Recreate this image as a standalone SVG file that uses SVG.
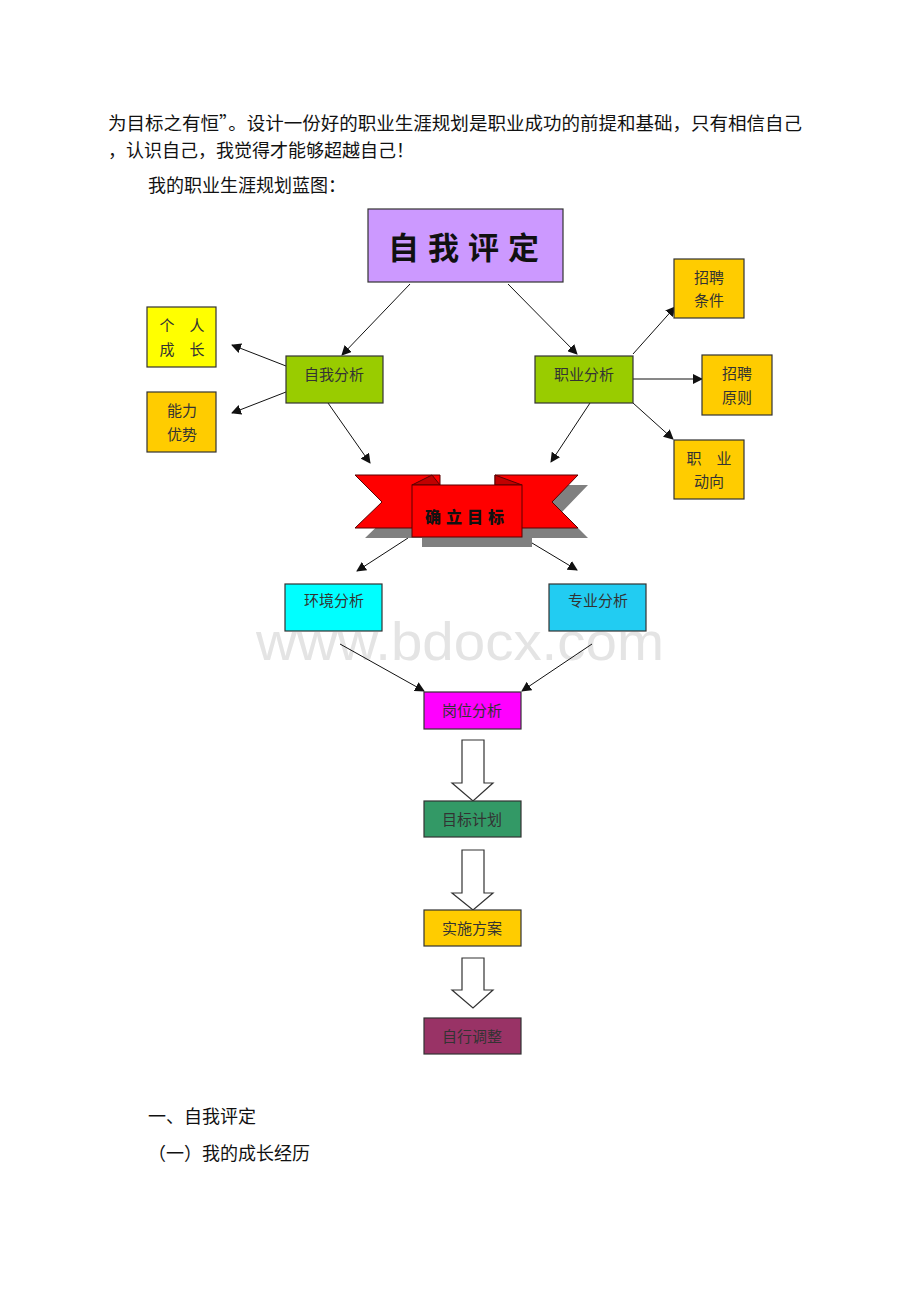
<svg xmlns="http://www.w3.org/2000/svg" width="920" height="1302" viewBox="0 0 920 1302">
<style>
.body{font-family:"Noto Sans CJK SC","Liberation Serif",serif;font-size:18px;fill:#111}
.box{stroke:#333;stroke-width:1.2}
.lbl{font-family:"Noto Sans CJK SC","Liberation Sans",sans-serif;font-size:15px;fill:#333;text-anchor:middle}
.con{stroke:#111;stroke-width:1;fill:none;marker-end:url(#ah)}
.blk{fill:#fff;stroke:#333;stroke-width:1.2}
</style>
<defs>
<marker id="ah" viewBox="0 0 10 10" refX="9" refY="5" markerWidth="10" markerHeight="10" markerUnits="userSpaceOnUse" orient="auto">
<path d="M0,0 L10,5 L0,10 z" fill="#111"/>
</marker>
</defs>
<rect width="920" height="1302" fill="#fff"/>
<text x="256" y="660" font-family="Liberation Sans,Arial,sans-serif" font-size="54" textLength="408" lengthAdjust="spacingAndGlyphs" fill="#e4e4e4">www.bdocx.com</text>
<g id="intro">
<text class="body" x="108" y="130" textLength="694" lengthAdjust="spacingAndGlyphs">为目标之有恒”。设计一份好的职业生涯规划是职业成功的前提和基础，只有相信自己</text>
<text class="body" x="108" y="157">，认识自己，我觉得才能够超越自己！</text>
<text class="body" x="148" y="192">我的职业生涯规划蓝图：</text>
</g>
<g id="connectors">
<line class="con" x1="410" y1="284" x2="342" y2="355"/>
<line class="con" x1="508" y1="284" x2="577" y2="354"/>
<line class="con" x1="286" y1="366" x2="232" y2="345"/>
<line class="con" x1="286" y1="392" x2="232" y2="413"/>
<line class="con" x1="328" y1="403" x2="370" y2="463"/>
<line class="con" x1="590" y1="403" x2="551" y2="462"/>
<line class="con" x1="633" y1="354" x2="675" y2="307"/>
<line class="con" x1="633" y1="379" x2="702" y2="379"/>
<line class="con" x1="633" y1="403" x2="673" y2="439"/>
<line class="con" x1="408" y1="538" x2="357" y2="571"/>
<line class="con" x1="522" y1="537" x2="577" y2="570"/>
<line class="con" x1="340" y1="644" x2="424" y2="691"/>
<line class="con" x1="592" y1="644" x2="522" y2="691"/>
<path class="blk" d="M462,740 H484 V783 H493 L473,801 L452,783 H462 Z"/>
<path class="blk" d="M462,850 H484 V893 H493 L473,910 L452,893 H462 Z"/>
<path class="blk" d="M462,958 H484 V990 H493 L473,1008 L452,990 H462 Z"/>
</g>
<g id="n-zwpd">
<rect class="box" x="368" y="209" width="195" height="73" fill="#cc99ff" stroke="#8a5cb0"/>
<text x="468" y="259" font-family="Noto Sans CJK SC,sans-serif" font-size="31" font-weight="700" fill="#111" text-anchor="middle" letter-spacing="9">自我评定</text>
</g>
<g id="n-grcz">
<rect class="box" x="147" y="307" width="69" height="60" fill="#ffff00"/>
<text class="lbl" x="182" y="331" xml:space="preserve">个　人</text>
<text class="lbl" x="182" y="355" xml:space="preserve">成　长</text>
</g>
<g id="n-nlys">
<rect class="box" x="147" y="392" width="69" height="60" fill="#ffcc00"/>
<text class="lbl" x="182" y="416">能力</text>
<text class="lbl" x="182" y="440">优势</text>
</g>
<g id="n-zwfx">
<rect class="box" x="286" y="356" width="97" height="47" fill="#99cc00"/>
<text class="lbl" x="334" y="380">自我分析</text>
</g>
<g id="n-zyfx">
<rect class="box" x="535" y="356" width="98" height="47" fill="#99cc00"/>
<text class="lbl" x="584" y="380">职业分析</text>
</g>
<g id="n-zptj">
<rect class="box" x="674" y="259" width="70" height="59" fill="#ffcc00"/>
<text class="lbl" x="709" y="283">招聘</text>
<text class="lbl" x="709" y="306">条件</text>
</g>
<g id="n-zpyz">
<rect class="box" x="702" y="355" width="70" height="60" fill="#ffcc00"/>
<text class="lbl" x="737" y="379">招聘</text>
<text class="lbl" x="737" y="403">原则</text>
</g>
<g id="n-zydx">
<rect class="box" x="674" y="440" width="70" height="59" fill="#ffcc00"/>
<text class="lbl" x="709" y="464" xml:space="preserve">职　业</text>
<text class="lbl" x="709" y="487">动向</text>
</g>
<g id="n-qlmb">
<g fill="#808080">
<polygon points="365,485 450,485 450,538 365,538 392,512"/>
<polygon points="505,485 588,485 562,512 588,538 505,538"/>
<rect x="422" y="495" width="110" height="52"/>
</g>
<g fill="#ff0000" stroke="#5a0000" stroke-width="1">
<polygon points="355,475 440,475 440,528 355,528 382,502"/>
<polygon points="495,475 578,475 552,502 578,528 495,528"/>
<polygon points="432,475 412,485 440,485" fill="#c00000"/>
<polygon points="495,475 522,485 495,485" fill="#c00000"/>
<rect x="412" y="485" width="110" height="52"/>
</g>
<text x="467" y="523" font-family="Noto Sans CJK SC,sans-serif" font-size="16" font-weight="900" fill="#111" text-anchor="middle" letter-spacing="5">确立目标</text>
</g>
<g id="n-hjfx">
<rect class="box" x="285" y="584" width="97" height="47" fill="#00ffff"/>
<text class="lbl" x="334" y="606">环境分析</text>
</g>
<g id="n-zyfx2">
<rect class="box" x="549" y="584" width="97" height="47" fill="#22ccf2"/>
<text class="lbl" x="598" y="606">专业分析</text>
</g>
<g id="n-gwfx">
<rect class="box" x="424" y="692" width="97" height="37" fill="#ff00ff"/>
<text class="lbl" x="472" y="716">岗位分析</text>
</g>
<g id="n-mbjh">
<rect class="box" x="424" y="801" width="97" height="36" fill="#339966"/>
<text class="lbl" x="472" y="825">目标计划</text>
</g>
<g id="n-ssfa">
<rect class="box" x="424" y="910" width="97" height="36" fill="#ffcc00"/>
<text class="lbl" x="472" y="934">实施方案</text>
</g>
<g id="n-zxtz">
<rect class="box" x="424" y="1018" width="97" height="36" fill="#993366"/>
<text class="lbl" x="472" y="1042" fill="#222">自行调整</text>
</g>
<g id="outro">
<text class="body" x="148" y="1123">一、自我评定</text>
<text class="body" x="148" y="1160">（一）我的成长经历</text>
</g>
</svg>
